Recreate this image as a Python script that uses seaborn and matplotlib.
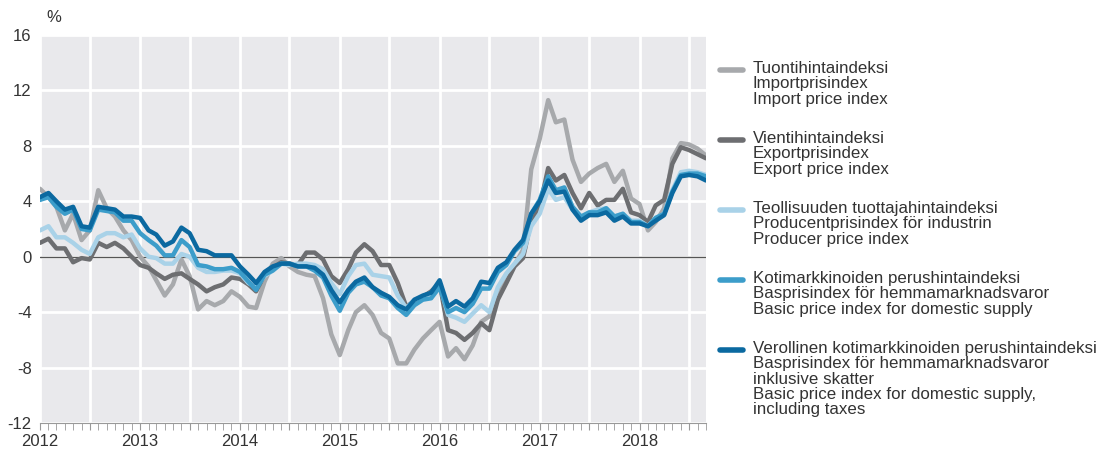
import pandas as pd
import matplotlib.pyplot as plt
import matplotlib.dates as mdates
from matplotlib.lines import Line2D
import seaborn as sns

# Kuukausittaiset vuosimuutokset (%), 1/2012 - 9/2018
months = pd.date_range('2012-01-01', periods=81, freq='MS')

tuonti = [4.9, 4.3, 3.6, 1.9, 3.1, 1.2, 1.9, 4.8, 3.5, 2.9, 1.9, 1.2,
          0.0, -0.7, -1.7, -2.8, -2.0, -0.2, -1.4, -3.8, -3.2, -3.5, -3.2, -2.5,
          -2.9, -3.6, -3.7, -1.8, -0.5, -0.1, -0.7, -1.1, -1.3, -1.4, -3.0, -5.6,
          -7.1, -5.3, -4.0, -3.5, -4.2, -5.5, -5.9, -7.7, -7.7, -6.7, -5.9, -5.3,
          -4.7, -7.2, -6.6, -7.4, -6.4, -4.7, -4.3, -2.6, -1.4, -0.6, 0.5, 6.3,
          8.5, 11.3, 9.7, 9.9, 7.0, 5.4, 6.0, 6.4, 6.7, 5.4, 6.2, 4.2,
          3.8, 1.9, 2.5, 3.5, 7.1, 8.2, 8.1, 7.8, 7.3]
vienti = [1.0, 1.3, 0.6, 0.6, -0.4, -0.1, -0.2, 1.0, 0.7, 1.0, 0.6, 0.0,
          -0.6, -0.8, -1.2, -1.6, -1.3, -1.2, -1.6, -2.0, -2.5, -2.2, -2.0, -1.5,
          -1.6, -2.0, -2.5, -1.3, -0.8, -0.4, -0.5, -0.6, 0.3, 0.3, -0.2, -1.4,
          -1.9, -0.9, 0.3, 0.9, 0.4, -0.6, -0.6, -1.9, -3.6, -3.2, -2.9, -2.5,
          -1.9, -5.3, -5.5, -6.0, -5.5, -4.8, -5.3, -3.1, -1.9, -0.7, -0.1, 2.6,
          3.6, 6.4, 5.5, 5.9, 4.6, 3.5, 4.6, 3.7, 4.1, 4.1, 4.9, 3.2,
          3.0, 2.5, 3.7, 4.1, 6.7, 7.9, 7.7, 7.4, 7.1]
tuottaja = [1.9, 2.2, 1.4, 1.4, 1.0, 0.5, 0.2, 1.4, 1.7, 1.7, 1.4, 1.6,
            0.6, 0.0, -0.1, -0.5, -0.5, 0.2, 0.0, -0.8, -1.1, -1.1, -1.0, -1.0,
            -1.2, -1.9, -2.2, -1.4, -1.0, -0.5, -0.6, -0.5, -0.5, -0.6, -0.9, -1.9,
            -2.7, -1.4, -0.6, -0.5, -1.3, -1.4, -1.5, -2.8, -3.7, -3.1, -2.9, -2.6,
            -2.0, -4.2, -4.4, -4.7, -4.1, -3.5, -4.0, -2.2, -1.2, -0.5, 0.2, 2.2,
            3.1, 4.9, 4.1, 4.3, 3.4, 2.8, 3.2, 3.4, 3.5, 2.9, 3.1, 2.6,
            2.6, 2.2, 2.8, 3.1, 4.8, 6.1, 6.2, 6.1, 5.9]
perus = [4.1, 4.3, 3.6, 3.1, 3.4, 2.0, 1.9, 3.4, 3.3, 3.2, 2.6, 2.6,
         1.7, 1.2, 0.8, 0.1, 0.1, 1.2, 0.7, -0.6, -0.7, -0.9, -0.9, -0.8,
         -1.1, -1.8, -2.4, -1.3, -1.0, -0.5, -0.5, -0.7, -0.7, -1.0, -1.5, -2.8,
         -3.9, -2.6, -2.0, -1.8, -2.2, -2.8, -3.0, -3.7, -4.2, -3.5, -3.1, -3.0,
         -2.2, -4.0, -3.7, -4.0, -3.4, -2.3, -2.3, -1.1, -0.6, 0.4, 1.0, 3.1,
         4.1, 5.8, 4.8, 5.0, 3.6, 2.9, 3.2, 3.2, 3.5, 2.9, 3.1, 2.5,
         2.5, 2.2, 2.8, 3.1, 4.7, 5.9, 6.0, 6.0, 5.8]
verollinen = [4.3, 4.6, 4.0, 3.4, 3.6, 2.2, 2.1, 3.6, 3.5, 3.4, 2.9, 2.9,
              2.8, 1.9, 1.6, 0.8, 1.1, 2.1, 1.7, 0.5, 0.4, 0.1, 0.1, 0.1,
              -0.7, -1.3, -1.9, -1.1, -0.7, -0.5, -0.5, -0.7, -0.7, -0.8, -1.3, -2.4,
              -3.3, -2.4, -1.8, -1.5, -2.2, -2.6, -2.9, -3.5, -3.8, -3.1, -2.8, -2.6,
              -1.7, -3.6, -3.2, -3.6, -3.0, -1.8, -1.9, -0.8, -0.4, 0.5, 1.2, 3.1,
              4.0, 5.5, 4.6, 4.7, 3.4, 2.6, 3.0, 3.0, 3.2, 2.6, 2.9, 2.4,
              2.4, 2.2, 2.6, 3.0, 4.6, 5.8, 5.9, 5.8, 5.5]

labels = [
    'Tuontihintaindeksi\nImportprisindex\nImport price index',
    'Vientihintaindeksi\nExportprisindex\nExport price index',
    'Teollisuuden tuottajahintaindeksi\nProducentprisindex för industrin\nProducer price index',
    'Kotimarkkinoiden perushintaindeksi\nBasprisindex för hemmamarknadsvaror\nBasic price index for domestic supply',
    'Verollinen kotimarkkinoiden perushintaindeksi\nBasprisindex för hemmamarknadsvaror\ninklusive skatter\n'
    'Basic price index for domestic supply,\nincluding taxes',
]
colors = ['#a7a9ac', '#6d6e71', '#a9d2e8', '#3c9dca', '#0b69a0']
series = [tuonti, vienti, tuottaja, perus, verollinen]

df = pd.concat([pd.DataFrame({'kk': months, 'arvo': s, 'sarja': lab})
                for s, lab in zip(series, labels)])

sns.set_style('white', {'axes.facecolor': '#e9e9ec', 'grid.color': 'white'})
plt.rcParams['font.family'] = ['Liberation Sans', 'DejaVu Sans']
plt.rcParams['axes.unicode_minus'] = False
txt = '#333333'

fig = plt.figure(figsize=(11, 4.51), dpi=100)
ax = fig.add_axes([40 / 1100, 1 - 423 / 451, 666 / 1100, 388 / 451])

ax.axhline(0, color='#555555', lw=1, zorder=1)
sns.lineplot(data=df, x='kk', y='arvo', hue='sarja', hue_order=labels,
             palette=colors, lw=3.2, legend=False, ax=ax, zorder=3)

ax.set_xlim(months[0], months[-1])
ax.set_ylim(-12, 16)
ax.set_yticks(range(-12, 17, 4))
ax.xaxis.set_major_locator(mdates.MonthLocator(bymonth=[1, 7]))
ax.xaxis.set_major_formatter(plt.FuncFormatter(
    lambda v, p: str(mdates.num2date(v).year) if mdates.num2date(v).month == 1 else ''))
ax.xaxis.set_minor_locator(mdates.MonthLocator())
ax.grid(True, which='major', color='white', lw=2)
ax.set_axisbelow(True)
ax.tick_params(axis='y', length=0, pad=6, labelsize=12, labelcolor=txt)
ax.tick_params(axis='x', which='both', length=5, color='#999999', direction='out',
               pad=3, labelsize=12, labelcolor=txt, bottom=True)
ax.set_xlabel('')
ax.set_ylabel('')
for side in ['top', 'right', 'left']:
    ax.spines[side].set_visible(False)
ax.spines['bottom'].set_color('#999999')
ax.spines['bottom'].set_linewidth(0.8)

fig.text(46 / 1100, 1 - 17 / 451, '%', fontsize=12, color=txt, va='center', ha='left')

# selite
tops = [61, 131, 201, 271, 341]
for top, col, lab in zip(tops, colors, labels):
    yc = 1 - (top + 9) / 451
    fig.add_artist(Line2D([720 / 1100, 743 / 1100], [yc, yc], color=col, lw=4,
                          transform=fig.transFigure))
    fig.text(753 / 1100, 1 - top / 451, lab, fontsize=12.2, color=txt,
             va='top', ha='left', linespacing=1.03)

plt.savefig('out.png', dpi=100)
